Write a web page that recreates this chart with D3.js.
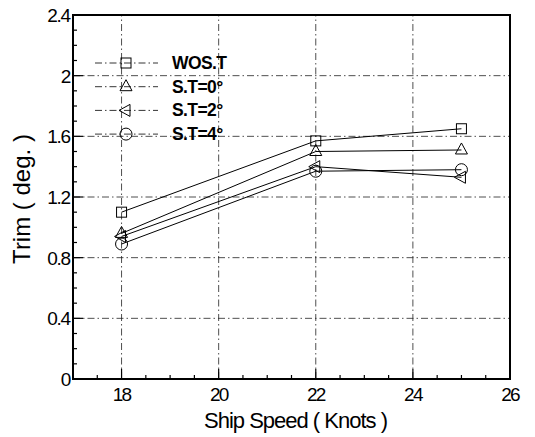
<!DOCTYPE html>
<html>
<head>
<meta charset="utf-8">
<script src="https://cdn.jsdelivr.net/npm/d3@7"></script>
<style>
	body { margin: 0; background: #fff; }
	svg text { font-family: "Liberation Sans", Arial, sans-serif; fill: #000; }
</style>
</head>
<body>
<div id="chart"></div>
<script>
// data
var speeds = [18, 22, 25];
var seriesNames = ['WOS.T', 'S.T=0\u00b0', 'S.T=2\u00b0', 'S.T=4\u00b0'];
var seriesMarkers = ['square', 'triangle', 'left', 'circle'];
var wost = [1.10, 1.57, 1.65];
var st0 = [0.96, 1.50, 1.51];
var st2 = [0.94, 1.40, 1.33];
var st4 = [0.89, 1.37, 1.38];
var xTicks = [18, 20, 22, 24, 26];
var yTicks = [0, 0.4, 0.8, 1.2, 1.6, 2, 2.4];

var allSeries = [wost, st0, st2, st4];

var W = 535, H = 437;
var margin = {left: 73, right: 25, top: 15, bottom: 58};

var svg = d3.select('#chart').append('svg')
	.attr('width', W)
	.attr('height', H);

var x = d3.scaleLinear().domain([17, 26]).range([margin.left, W - margin.right]);
var y = d3.scaleLinear().domain([0, 2.4]).range([H - margin.bottom, margin.top]);

var dashDot = '7,3,1.5,3';

// grid
svg.append('g').selectAll('line')
	.data(xTicks.filter(function(d) { return d < 26; }))
	.enter().append('line')
	.attr('x1', function(d) { return x(d); })
	.attr('x2', function(d) { return x(d); })
	.attr('y1', y(0)).attr('y2', y(2.4))
	.attr('stroke', '#222').attr('stroke-width', 0.8)
	.attr('stroke-dasharray', dashDot);

svg.append('g').selectAll('line')
	.data(yTicks.filter(function(d) { return d > 0 && d < 2.4; }))
	.enter().append('line')
	.attr('x1', x(17)).attr('x2', x(26))
	.attr('y1', function(d) { return y(d); })
	.attr('y2', function(d) { return y(d); })
	.attr('stroke', '#222').attr('stroke-width', 0.8)
	.attr('stroke-dasharray', dashDot);

// ticks inside the frame
var xMinor = d3.range(17, 26.01, 0.5);
svg.append('g').selectAll('line')
	.data(xMinor)
	.enter().append('line')
	.attr('x1', function(d) { return x(d); })
	.attr('x2', function(d) { return x(d); })
	.attr('y1', y(0))
	.attr('y2', function(d) { return y(0) - (d % 2 === 0 ? 10 : 4); })
	.attr('stroke', '#000').attr('stroke-width', 1.2);

var yMinor = d3.range(0, 2.401, 0.1);
svg.append('g').selectAll('line')
	.data(yMinor)
	.enter().append('line')
	.attr('x1', x(17))
	.attr('x2', function(d) {
		var major = Math.abs(d * 2.5 - Math.round(d * 2.5)) < 1e-6;
		return x(17) + (major ? 10 : 4);
	})
	.attr('y1', function(d) { return y(d); })
	.attr('y2', function(d) { return y(d); })
	.attr('stroke', '#000').attr('stroke-width', 1.2);

// frame
svg.append('rect')
	.attr('x', x(17)).attr('y', y(2.4))
	.attr('width', x(26) - x(17)).attr('height', y(0) - y(2.4))
	.attr('fill', 'none').attr('stroke', '#000').attr('stroke-width', 2);

// tick labels
svg.append('g').selectAll('text')
	.data(xTicks)
	.enter().append('text')
	.attr('x', function(d) { return x(d); })
	.attr('y', y(0) + 22)
	.attr('text-anchor', 'middle')
	.attr('font-size', 19)
	.attr('letter-spacing', -1.8)
	.text(function(d) { return d; });

svg.append('g').selectAll('text')
	.data(yTicks)
	.enter().append('text')
	.attr('x', x(17) - 3)
	.attr('y', function(d) { return y(d) + 7; })
	.attr('text-anchor', 'end')
	.attr('font-size', 19)
	.attr('letter-spacing', -1.2)
	.text(function(d) { return d === 0 || d === 2 ? d : d.toFixed(1); });

// axis titles
svg.append('text')
	.attr('x', (x(17) + x(26)) / 2 + 4)
	.attr('y', H - 9)
	.attr('text-anchor', 'middle')
	.attr('font-size', 22)
	.attr('letter-spacing', -1)
	.text('Ship Speed ( Knots )');

svg.append('text')
	.attr('transform', 'translate(30,' + (y(1.2) + 2) + ') rotate(-90)')
	.attr('text-anchor', 'middle')
	.attr('font-size', 24)
	.text('Trim ( deg. )');

// markers
function drawMarker(g, type, cx, cy) {
	var m;
	if (type === 'square') {
		m = g.append('rect').attr('x', cx - 5).attr('y', cy - 5).attr('width', 10).attr('height', 10);
	} else if (type === 'triangle') {
		m = g.append('path').attr('d', 'M' + cx + ',' + (cy - 7) + 'L' + (cx + 6) + ',' + (cy + 4) + 'L' + (cx - 6) + ',' + (cy + 4) + 'Z');
	} else if (type === 'left') {
		m = g.append('path').attr('d', 'M' + (cx - 7) + ',' + cy + 'L' + (cx + 4) + ',' + (cy - 6) + 'L' + (cx + 4) + ',' + (cy + 6) + 'Z');
	} else {
		m = g.append('circle').attr('cx', cx).attr('cy', cy).attr('r', 6);
	}
	m.attr('fill', 'none').attr('stroke', '#000').attr('stroke-width', 1);
}

var line = d3.line()
	.x(function(d, i) { return x(speeds[i]); })
	.y(function(d) { return y(d); });

allSeries.forEach(function(s, k) {
	var g = svg.append('g');
	g.append('path')
		.attr('d', line(s))
		.attr('fill', 'none')
		.attr('stroke', '#000')
		.attr('stroke-width', 1);
	s.forEach(function(v, i) {
		drawMarker(g, seriesMarkers[k], x(speeds[i]), y(v));
	});
});

// legend
var legend = svg.append('g');
seriesNames.forEach(function(name, k) {
	var ly = 63 + k * 23.7;
	legend.append('line')
		.attr('x1', 95).attr('x2', 158)
		.attr('y1', ly).attr('y2', ly)
		.attr('stroke', '#000').attr('stroke-width', 0.8)
		.attr('stroke-dasharray', dashDot);
	drawMarker(legend, seriesMarkers[k], 126, ly);
	legend.append('text')
		.attr('x', 172).attr('y', ly + 6)
		.attr('font-size', 17.5)
		.attr('font-weight', 'bold')
		.attr('letter-spacing', -0.6)
		.text(name);
});
</script>
</body>
</html>
